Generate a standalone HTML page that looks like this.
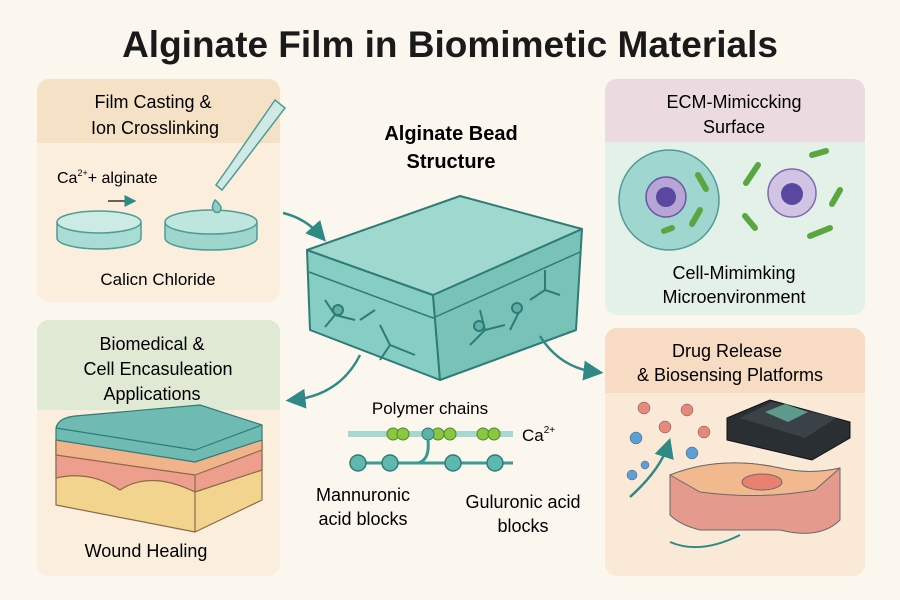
<!DOCTYPE html>
<html><head><meta charset="utf-8"><style>
body{margin:0;width:900px;height:600px;background:#fbf7ef;overflow:hidden;font-family:"Liberation Sans","DejaVu Sans",sans-serif;color:#1d1d1d}
svg{position:absolute;left:0;top:0}
</style></head><body>
<svg width="900" height="600" viewBox="0 0 900 600" xmlns="http://www.w3.org/2000/svg" font-family="Liberation Sans, DejaVu Sans, sans-serif">
<defs>
<marker id="ah" markerWidth="8" markerHeight="8" refX="5" refY="4" orient="auto"><path d="M0,0 L8,4 L0,8 Z" fill="#2f8a86"/></marker>
<clipPath id="c1"><rect x="37" y="79" width="243" height="223" rx="12"/></clipPath>
<clipPath id="c2"><rect x="605" y="79" width="260" height="236" rx="12"/></clipPath>
<clipPath id="c3"><rect x="37" y="320" width="243" height="256" rx="12"/></clipPath>
<clipPath id="c4"><rect x="605" y="328" width="260" height="248" rx="12"/></clipPath>
</defs>
<text x="450" y="57" text-anchor="middle" font-size="37" font-weight="bold" fill="#1a1a1a">Alginate Film in Biomimetic Materials</text>

<!-- Panel 1 -->
<g clip-path="url(#c1)"><rect x="37" y="79" width="243" height="223" fill="#fbeedd"/><rect x="37" y="79" width="243" height="64" fill="#f5e1c6"/></g>
<text x="153" y="108" text-anchor="middle" font-size="18">Film Casting &amp;</text>
<text x="155" y="134" text-anchor="middle" font-size="18">Ion Crosslinking</text>
<text x="57" y="183" font-size="16">Ca<tspan font-size="9" dy="-7">2+</tspan><tspan dy="7">+ alginate</tspan></text>
<line x1="108" y1="201" x2="132" y2="201" stroke="#333" stroke-width="1.5" marker-end="url(#ah)"/>
<g stroke="#4e9c95" stroke-width="1.5">
<path d="M57,222 v16 a42,11 0 0 0 84,0 v-16" fill="#a9dcd4"/><ellipse cx="99" cy="222" rx="42" ry="11" fill="#cdebe5"/>
<path d="M165,222 v16 a46,12 0 0 0 92,0 v-16" fill="#9ed6cd"/><ellipse cx="211" cy="222" rx="46" ry="12" fill="#bfe5df"/>
<path d="M275,100 L228,168 L216,185 L222,190 L233,176 L285,108 Z" fill="#cfeae6"/>
<path d="M215,200 q-5,8 0,12 q6,2 6,-5 q-2,-4 -6,-7z" fill="#8ecfc8"/>
</g>
<text x="158" y="285" text-anchor="middle" font-size="17">Calicn Chloride</text>

<!-- Center -->
<text x="451" y="140" text-anchor="middle" font-size="20" font-weight="bold">Alginate Bead</text>
<text x="451" y="168" text-anchor="middle" font-size="20" font-weight="bold">Structure</text>
<g stroke="#2f7c77" stroke-width="2" stroke-linejoin="round">
<path d="M307,250 L433,295 L440,380 L310,330 Z" fill="#86cdc3"/>
<path d="M433,295 L582,229 L576,330 L440,380 Z" fill="#78c2b8"/>
<path d="M307,250 L460,196 L582,229 L433,295 Z" fill="#9fd8cf"/>
<path d="M309,272 L433,318 L580,252" fill="none" stroke-width="1.5"/>
<path d="M325,300 l10,15 l20,5 m-20,-5 l-10,12 M360,320 l15,-10 M380,325 l10,20 l25,10 m-25,-10 l-10,15 M470,345 l15,-15 l20,-5 m-20,5 l-5,-20 M530,300 l15,-10 l15,5 m-15,-5 l0,-20 M520,310 l-10,20" fill="none" stroke-width="2"/>
<circle cx="338" cy="310" r="5" fill="#5fb0a6"/><circle cx="479" cy="326" r="5" fill="#5fb0a6"/><circle cx="517" cy="308" r="5" fill="#5fb0a6"/>
</g>
<path d="M283,213 Q305,218 321,236" fill="none" stroke="#2f8a86" stroke-width="2.5" marker-end="url(#ah)"/>
<path d="M360,355 Q340,395 293,400" fill="none" stroke="#2f8a86" stroke-width="2.5" marker-end="url(#ah)"/>
<path d="M540,336 Q560,368 596,372" fill="none" stroke="#2f8a86" stroke-width="2.5" marker-end="url(#ah)"/>

<!-- Panel 2 -->
<g clip-path="url(#c2)"><rect x="605" y="79" width="260" height="236" fill="#e3f1e8"/><rect x="605" y="79" width="260" height="63" fill="#ebdbe0"/></g>
<text x="734" y="108" text-anchor="middle" font-size="18">ECM-Mimiccking</text>
<text x="734" y="133" text-anchor="middle" font-size="18">Surface</text>
<circle cx="669" cy="200" r="50" fill="#9fd6d0" stroke="#4e9c95" stroke-width="1.5"/>
<circle cx="666" cy="197" r="20" fill="#b7a5d6" stroke="#6a55a0" stroke-width="1.5"/><circle cx="666" cy="197" r="10" fill="#5a47a0"/>
<circle cx="792" cy="193" r="24" fill="#d0c3e3" stroke="#7d6aaf" stroke-width="1.5"/><circle cx="792" cy="194" r="11" fill="#5a47a0"/>
<g stroke="#5aa640" stroke-width="6" stroke-linecap="round" fill="none">
<path d="M698,175 l8,14"/><path d="M700,210 l-8,14"/><path d="M672,228 l-8,3"/><path d="M758,165 l-12,18"/><path d="M812,155 l14,-4"/><path d="M840,190 l-8,14"/><path d="M745,216 l10,12"/><path d="M810,236 l20,-8"/>
</g>
<text x="734" y="279" text-anchor="middle" font-size="18">Cell-Mimimking</text>
<text x="734" y="303" text-anchor="middle" font-size="18">Microenvironment</text>

<!-- Panel 3 -->
<g clip-path="url(#c3)"><rect x="37" y="320" width="243" height="256" fill="#fbeedd"/><rect x="37" y="320" width="243" height="90" fill="#dfe9d3"/></g>
<text x="152" y="350" text-anchor="middle" font-size="18">Biomedical &amp;</text>
<text x="158" y="375" text-anchor="middle" font-size="18">Cell Encasuleation</text>
<text x="152" y="400" text-anchor="middle" font-size="18">Applications</text>
<g stroke="#8a6a4a" stroke-width="1.2" stroke-linejoin="round">
<path d="M56,440 L56,505 L195,532 L262,500 L262,440 Z" fill="#f3d48f"/>
<path d="M56,440 L56,478 Q90,470 120,490 Q150,470 195,492 L262,470 L262,440 Z" fill="#ee9e8c"/>
<path d="M56,440 L56,455 L195,475 L262,450 L262,440 Z" fill="#f1b48a"/>
<path d="M195,475 L195,532" fill="none"/>
<path d="M56,428 Q58,418 75,416 L200,405 L262,425 L262,440 L195,462 L56,440 Z" fill="#6fbab3" stroke="#2f7c77"/>
<path d="M56,428 L195,450 L262,425" fill="none" stroke="#2f7c77"/>
</g>
<text x="146" y="557" text-anchor="middle" font-size="18">Wound Healing</text>

<!-- Polymer chains -->
<text x="430" y="414" text-anchor="middle" font-size="17">Polymer chains</text>
<line x1="348" y1="434" x2="513" y2="434" stroke="#a7d8cf" stroke-width="6"/>
<g fill="#8cc63f" stroke="#4a8a2a" stroke-width="1"><circle cx="393" cy="434" r="6"/><circle cx="403" cy="434" r="6"/><circle cx="438" cy="434" r="6"/><circle cx="450" cy="434" r="6"/><circle cx="483" cy="434" r="6"/><circle cx="494" cy="434" r="6"/></g>
<circle cx="428" cy="434" r="6" fill="#5fb0a6" stroke="#2f7c77"/>
<text x="522" y="441" font-size="17">Ca<tspan font-size="10" dy="-8">2+</tspan></text>
<path d="M350,463 L513,463 M428,440 Q430,460 418,463" stroke="#3a9a90" stroke-width="3" fill="none"/>
<g fill="#5fb8ad" stroke="#2f7c77" stroke-width="1.5"><circle cx="358" cy="463" r="8"/><circle cx="390" cy="463" r="8"/><circle cx="453" cy="463" r="8"/><circle cx="495" cy="463" r="8"/></g>
<text x="363" y="501" text-anchor="middle" font-size="18">Mannuronic</text>
<text x="363" y="525" text-anchor="middle" font-size="18">acid blocks</text>
<text x="523" y="508" text-anchor="middle" font-size="18">Guluronic acid</text>
<text x="523" y="532" text-anchor="middle" font-size="18">blocks</text>

<!-- Panel 4 -->
<g clip-path="url(#c4)"><rect x="605" y="328" width="260" height="248" fill="#fbe9d8"/><rect x="605" y="328" width="260" height="65" fill="#f7dbc3"/></g>
<text x="727" y="357" text-anchor="middle" font-size="18">Drug Release</text>
<text x="730" y="381" text-anchor="middle" font-size="18">&amp; Biosensing Platforms</text>
<g stroke="#555" stroke-width="0.5">
<circle cx="644" cy="408" r="6" fill="#e8877a"/><circle cx="687" cy="410" r="6" fill="#e8877a"/><circle cx="665" cy="427" r="6" fill="#e8877a"/><circle cx="704" cy="432" r="6" fill="#e8877a"/>
<circle cx="636" cy="438" r="6" fill="#5b9fd8"/><circle cx="692" cy="453" r="6" fill="#5b9fd8"/><circle cx="645" cy="465" r="4" fill="#5b9fd8"/><circle cx="632" cy="475" r="5" fill="#5b9fd8"/>
<circle cx="685" cy="520" r="3" fill="#5b9fd8"/><circle cx="705" cy="523" r="3" fill="#5b9fd8"/>
</g>
<path d="M630,497 Q660,470 668,445" fill="none" stroke="#2f8a86" stroke-width="2.5" marker-end="url(#ah)"/>
<path d="M670,542 Q700,555 740,535" fill="none" stroke="#2f8a86" stroke-width="2"/>
<path d="M727,418 L770,400 L850,422 L850,438 L812,460 L727,440 Z" fill="#2a2f33" stroke="#111"/>
<path d="M740,418 L772,402 L836,418 L805,438 Z" fill="#3a4248"/>
<path d="M765,412 L785,404 L808,412 L788,422 Z" fill="#5e9a8c"/>
<g stroke="#6a6a6a"><path d="M670,475 Q720,455 780,468 Q810,475 840,468 L840,520 Q820,540 780,530 L700,530 Q680,525 670,515 Z" fill="#e49a8c"/>
<path d="M670,475 Q720,455 780,468 Q810,475 840,468 L815,490 Q760,500 700,492 Z" fill="#f2b98e"/>
<ellipse cx="762" cy="482" rx="20" ry="8" fill="#e98070"/></g>
</svg>
</body></html>
